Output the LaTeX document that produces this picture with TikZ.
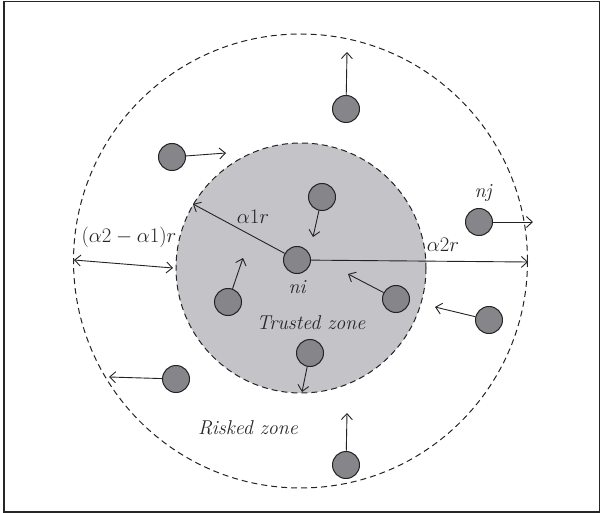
\documentclass[tikz,border=0pt]{standalone}
\usetikzlibrary{arrows.meta}
\definecolor{zonegray}{RGB}{196,196,200}
\definecolor{nodegray}{RGB}{134,134,138}
\definecolor{edgegray}{RGB}{35,35,35}
\begin{document}
\begin{tikzpicture}[x=1pt,y=-1pt,
  sensor/.style={circle,draw=edgegray,fill=nodegray,line width=1pt,minimum size=27pt,inner sep=0pt},
  move/.style={-{Straight Barb[length=6pt,width=11pt]},line width=0.9pt,draw=edgegray},
  both/.style={{Straight Barb[length=6pt,width=11pt]}-{Straight Barb[length=6pt,width=11pt]},line width=0.9pt,draw=edgegray},
  zone/.style={dashed,dash pattern=on 6pt off 4pt,line width=1pt,draw=edgegray},
  lbl/.style={font=\fontsize{20}{24}\selectfont\itshape,inner sep=0pt,text=black!85}]
\useasboundingbox (0,0) rectangle (600,513);
\draw[line width=1.5pt,draw=black!85] (4,1.5) rectangle (599.5,512);
% zones
\draw[zone] (300.5,261) circle[radius=227];
\draw[zone,fill=zonegray] (301,268) circle[radius=125];
% nodes
\node[sensor] (n1) at (346,109) {};
\node[sensor] (n2) at (172,157) {};
\node[sensor] (n3) at (322,197) {};
\node[sensor] (ni) at (297,260) {};
\node[sensor] (nj) at (479,222) {};
\node[sensor] (n6) at (228,302) {};
\node[sensor] (n7) at (396,299) {};
\node[sensor] (n8) at (489,320) {};
\node[sensor] (n9) at (310,353) {};
\node[sensor] (n10) at (176,379) {};
\node[sensor] (n11) at (346,465) {};
% arrow end points
\coordinate (t1) at (347,52);
\coordinate (t2) at (226,153);
\coordinate (t3) at (313,237);
\coordinate (ta1) at (193,204);
\coordinate (ta2) at (528,262);
\coordinate (tj) at (533,222);
\coordinate (t6) at (243,258);
\coordinate (t7) at (348,274);
\coordinate (t8) at (435,307);
\coordinate (t9) at (302,392);
\coordinate (t10) at (109,377);
\coordinate (t11) at (347,413);
\coordinate (dl) at (74,260);
\coordinate (dr) at (173,268);
% arrows
\draw[move] (n1) -- (t1);
\draw[move] (n2) -- (t2);
\draw[move] (n3) -- (t3);
\draw[move] (ni) -- (ta1);
\draw[move] (ni) -- (ta2);
\draw[move] (nj) -- (tj);
\draw[move] (n6) -- (t6);
\draw[move] (n7) -- (t7);
\draw[move] (n8) -- (t8);
\draw[move] (n9) -- (t9);
\draw[move] (n10) -- (t10);
\draw[move] (n11) -- (t11);
\draw[both] (dl) -- (dr);
% labels
\node[lbl] (la) at (129,237) {$(\alpha2-\alpha1)r$};
\node[lbl] (lb) at (253,217) {$\alpha1r$};
\node[lbl] (lc) at (443,245) {$\alpha2r$};
\node[lbl] (lni) at (297,287) {ni};
\node[lbl] (lnj) at (483,193) {nj};
\node[lbl] (lt) at (311,323) {Trusted zone};
\node[lbl] (lr) at (248,428) {Risked zone};
\end{tikzpicture}
\end{document}
